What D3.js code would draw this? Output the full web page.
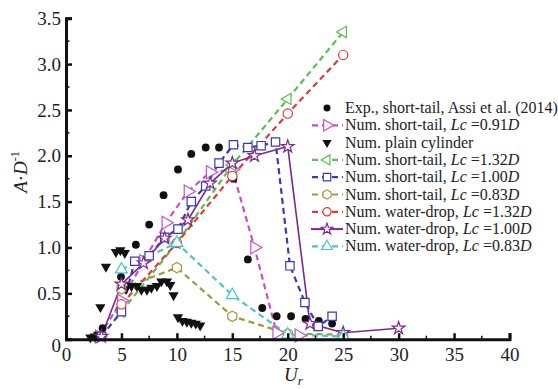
<!DOCTYPE html>
<html>
<head>
<meta charset="utf-8">
<script src="https://cdn.jsdelivr.net/npm/d3@7"></script>
<style>
  body { margin: 0; background: #fff; }
  svg text { font-family: "Liberation Serif", "Times New Roman", Times, "DejaVu Serif", serif; }
</style>
</head>
<body>
<div id="chart"></div>
<script>
// data: [Ur, A/D]
const expShortTail = [[3.3,0.12],[4.96,0.68],[6.3,1.03],[7.5,1.25],[8.8,1.57],[10.1,1.85],[11.3,2.02],[12.6,2.09],[13.8,2.09],[15.1,1.75],[16.4,0.87],[17.7,0.34],[19.0,0.25],[20.3,0.25],[21.6,0.22],[22.8,0.2],[24.0,0.17]];
const plainCylinder = [[2.2,0.02],[2.6,0.03],[2.9,0.05],[3.1,0.35],[3.6,0.79],[4.5,0.95],[4.9,0.97],[5.3,0.94],[5.4,0.55],[5.9,0.58],[6.4,0.58],[6.8,0.54],[7.3,0.54],[7.7,0.56],[8.2,0.58],[8.6,0.63],[9.1,0.63],[9.4,0.59],[9.7,0.48],[10.1,0.24],[10.5,0.2],[10.9,0.19],[11.3,0.18],[11.7,0.17],[12.1,0.15]];
const shortTail091 = [[3,0.03],[5,0.42],[7,0.85],[9,1.27],[11,1.61],[13,1.82],[15,1.85],[17,1.0],[19,0.07],[21,0.04]];
const shortTail132 = [[5,0.3],[10,1.05],[15,1.9],[20,2.62],[25,3.35]];
const shortTail100 = [[3.2,0.03],[5,0.3],[6.2,0.85],[7.5,0.91],[8.9,1.11],[10.1,1.2],[11.3,1.5],[12.6,1.67],[13.8,1.92],[15.1,2.12],[16.4,2.09],[17.6,2.11],[18.9,2.15],[20.2,0.8],[21.55,0.4],[22.75,0.14],[24,0.25]];
const shortTail083 = [[5,0.55],[10,0.78],[15,0.25],[20,0.06],[25,0.05]];
const waterDrop132 = [[5,0.38],[10,1.05],[15,1.78],[20,2.46],[25,3.1]];
const waterDrop100 = [[3.2,0.03],[5,0.6],[7,0.83],[8.9,1.1],[11,1.3],[13,1.7],[15,1.92],[17,2.0],[20,2.1],[22,0.17],[25,0.07],[30,0.12]];
const waterDrop083 = [[5,0.76],[10,1.05],[15,0.48],[20,0.05],[25,0.03]];

const xTicks = [0,5,10,15,20,25,30,35,40];
const yTicks = [0,0.5,1.0,1.5,2.0,2.5,3.0,3.5];

const series = [
  {data: expShortTail, label: ["Exp., short-tail, Assi et al. (2014)"], marker: "dot", color: "#111", line: null},
  {data: shortTail091, label: ["Num. short-tail, ", "Lc", " =0.91", "D"], marker: "right", color: "#c84fc8", line: "dash"},
  {data: plainCylinder, label: ["Num. plain cylinder"], marker: "down", color: "#111", line: null},
  {data: shortTail132, label: ["Num. short-tail, ", "Lc", " =1.32", "D"], marker: "left", color: "#5cbf4f", line: "dash"},
  {data: shortTail100, label: ["Num. short-tail, ", "Lc", " =1.00", "D"], marker: "square", color: "#3a3ab8", line: "dash"},
  {data: shortTail083, label: ["Num. short-tail, ", "Lc", " =0.83", "D"], marker: "hex", color: "#9c9c3c", line: "dash"},
  {data: waterDrop132, label: ["Num. water-drop, ", "Lc", " =1.32", "D"], marker: "circle", color: "#e03a3a", line: "dash"},
  {data: waterDrop100, label: ["Num. water-drop, ", "Lc", " =1.00", "D"], marker: "star", color: "#7b2a8a", line: "solid"},
  {data: waterDrop083, label: ["Num. water-drop, ", "Lc", " =0.83", "D"], marker: "up", color: "#45c8cc", line: "dash"}
];

const width = 558, height = 389;
const svg = d3.select("#chart").append("svg")
    .attr("width", width)
    .attr("height", height);

const x = d3.scaleLinear().domain([0, 40]).range([66, 509.5]);
const y = d3.scaleLinear().domain([0, 3.5]).range([339.2, 18.2]);

function hexPath(r) {
    const pts = d3.range(6).map(i => {
        const a = Math.PI / 6 + i * Math.PI / 3;
        return [r * Math.cos(a), r * Math.sin(a)];
    });
    return d3.line()(pts) + "Z";
}

// k scales the marker (legend uses smaller ones)
function drawMarker(g, kind, color, cx, cy, k = 1) {
    const m = g.append("path");
    if (kind === "dot") {
        m.attr("d", d3.symbol(d3.symbolCircle, 48 * k)())
         .attr("transform", `translate(${cx},${cy})`)
         .attr("fill", color);
    } else if (kind === "down") {
        m.attr("d", d3.symbol(d3.symbolTriangle, 46 * k)())
         .attr("transform", `translate(${cx},${cy}) rotate(180)`)
         .attr("fill", color);
    } else {
        let d, rot = 0;
        if (kind === "right") { d = d3.symbol(d3.symbolTriangle, 72 * k)(); rot = 90; }
        else if (kind === "left") { d = d3.symbol(d3.symbolTriangle, 55 * k)(); rot = -90; }
        else if (kind === "up") { d = d3.symbol(d3.symbolTriangle, 62 * k)(); }
        else if (kind === "square") { d = d3.symbol(d3.symbolSquare, 70 * k)(); }
        else if (kind === "circle") { d = d3.symbol(d3.symbolCircle, 68 * k)(); }
        else if (kind === "star") { d = d3.symbol(d3.symbolStar, 50 * k)(); }
        else if (kind === "hex") { d = hexPath(5.2 * Math.sqrt(k)); }
        m.attr("d", d)
         .attr("transform", `translate(${cx},${cy}) rotate(${rot})`)
         .attr("fill", "#fff")
         .attr("stroke", color)
         .attr("stroke-width", 1.2);
    }
}

const line = d3.line().x(d => x(d[0])).y(d => y(d[1]));

// lines
series.forEach(s => {
    if (!s.line) return;
    svg.append("path")
        .datum(s.data)
        .attr("d", line)
        .attr("fill", "none")
        .attr("stroke", s.color)
        .attr("stroke-width", s.line === "solid" ? 1.6 : 2.2)
        .attr("stroke-dasharray", s.line === "dash" ? "6,4" : null);
});

// markers
series.forEach(s => {
    const g = svg.append("g");
    s.data.forEach(d => drawMarker(g, s.marker, s.color, x(d[0]), y(d[1])));
});

// axes
const xAxis = d3.axisBottom(x).tickValues(xTicks).tickSize(-6).tickPadding(8).tickFormat(d3.format("d"));
const gx = svg.append("g").attr("transform", `translate(0,${y(0)})`).call(xAxis);
const yAxis = d3.axisLeft(y).tickValues(yTicks).tickSize(-6).tickPadding(5)
    .tickFormat(d => d === 0 ? "0" : d3.format(".1f")(d));
const gy = svg.append("g").attr("transform", `translate(${x(0)},0)`).call(yAxis);

// minor ticks
svg.append("g").selectAll("line")
    .data(d3.range(2.5, 40, 5))
    .join("line")
    .attr("x1", d => x(d)).attr("x2", d => x(d))
    .attr("y1", y(0)).attr("y2", y(0) - 3.5)
    .attr("stroke", "#111").attr("stroke-width", 1.5);
svg.append("g").selectAll("line")
    .data(d3.range(0.25, 3.5, 0.5))
    .join("line")
    .attr("x1", x(0)).attr("x2", x(0) + 3.5)
    .attr("y1", d => y(d)).attr("y2", d => y(d))
    .attr("stroke", "#111").attr("stroke-width", 1.5);

[gx, gy].forEach(g => {
    g.attr("font-family", null).attr("font-size", null);
    g.select(".domain").attr("stroke", "#111").attr("stroke-width", 3);
    g.selectAll(".tick line").attr("stroke", "#111").attr("stroke-width", 2.5);
    g.selectAll(".tick text")
        .style("font-family", "'Liberation Serif', 'Times New Roman', serif")
        .style("font-size", "19px")
        .attr("fill", "#222");
});
gy.selectAll(".tick text").filter(d => d === 0).attr("dy", "0.65em");

// axis titles
const yTitle = svg.append("text")
    .attr("transform", "translate(27,172) rotate(-90)")
    .attr("text-anchor", "middle")
    .style("font-size", "19px")
    .attr("fill", "#222");
yTitle.append("tspan").attr("font-style", "italic").text("A");
yTitle.append("tspan").text("·");
yTitle.append("tspan").attr("font-style", "italic").text("D");
yTitle.append("tspan").style("font-size", "12px").attr("dy", -8).text("-1");

const xTitle = svg.append("text")
    .attr("x", 284).attr("y", 381)
    .style("font-size", "19px")
    .attr("fill", "#222");
xTitle.append("tspan").attr("font-style", "italic").text("U");
xTitle.append("tspan").attr("font-style", "italic").style("font-size", "13px").attr("dy", 4).text("r");

// legend
const legend = svg.append("g");
series.forEach((s, i) => {
    const ly = 108 + i * 17.3;
    if (s.line) {
        legend.append("line")
            .attr("x1", 311).attr("x2", 343)
            .attr("y1", ly).attr("y2", ly)
            .attr("stroke", s.color)
            .attr("stroke-width", s.line === "solid" ? 2 : 2.2)
            .attr("stroke-dasharray", s.line === "dash" ? "6,4" : null)
            .attr("stroke-dashoffset", -1);
    }
    drawMarker(legend, s.marker, s.color, 327, ly, 0.8);
    const t = legend.append("text")
        .attr("x", 345).attr("y", ly + 5)
        .style("font-size", "16px")
        .attr("fill", "#222");
    s.label.forEach((part, k) => {
        t.append("tspan")
            .attr("font-style", (k === 1 || k === 3) ? "italic" : null)
            .text(part);
    });
});
</script>
</body>
</html>
